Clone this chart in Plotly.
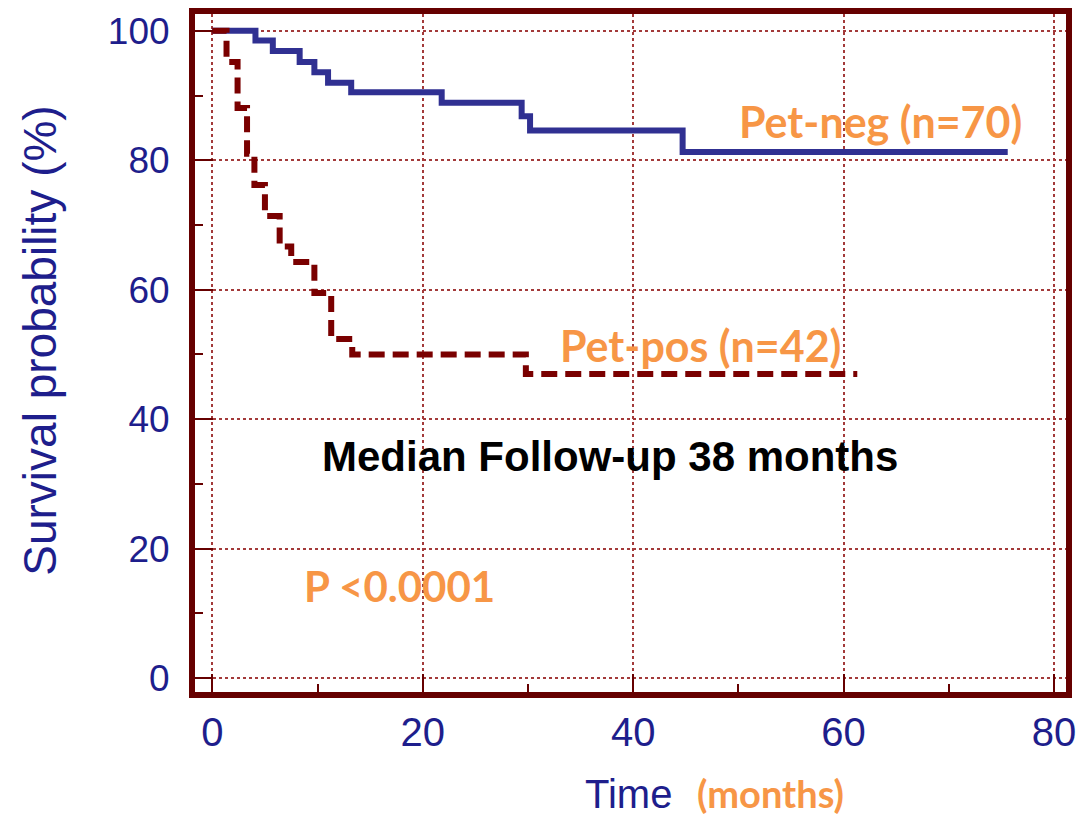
import plotly.graph_objects as go

# ---- data ----
neg_time = [0, 4.1, 5.75, 8.3, 9.7, 11.0, 13.2, 21.8, 29.4, 30.2, 44.7, 75.6]
neg_surv = [100, 98.5, 96.9, 95.2, 93.6, 92.0, 90.5, 88.9, 86.8, 84.6, 81.3, 81.3]

pos_time = [0, 1.35, 2.4, 3.3, 4.0, 5.0, 6.4, 7.5, 9.7, 11.3, 13.3, 29.8, 61.3]
pos_surv = [100, 95.2, 88.1, 81.0, 76.2, 71.4, 66.7, 64.3, 59.5, 52.4, 50.0, 47.0, 47.0]

x_ticks = [0, 20, 40, 60, 80]
y_ticks = [0, 20, 40, 60, 80, 100]

NAVY = "#1E1E8C"
ORANGE = "#F79646"
FRAME = "#660000"
GRID = "#A33A3A"

fig = go.Figure()
fig.add_trace(go.Scatter(x=neg_time, y=neg_surv, mode="lines", line_shape="hv",
                         line=dict(color="#303092", width=6), name="Pet-neg", showlegend=False))
fig.add_trace(go.Scatter(x=pos_time, y=pos_surv, mode="lines", line_shape="hv",
                         line=dict(color="#7A0000", width=6, dash="16px,8px"), name="Pet-pos", showlegend=False))

# plot area in pixels
L, R, T, B = 195, 1075, 8, 692
W, H = 1084, 819
x0px, xscale = 212.5, 10.63
y0px, yscale = 678.0, 6.53

xr = [(L - x0px) / xscale, (R - x0px) / xscale]
yr = [(y0px - B) / yscale, (y0px - T) / yscale]

axis_common = dict(
    showline=True, linewidth=6, linecolor=FRAME, mirror=True,
    showgrid=True, gridcolor=GRID, gridwidth=1.5, griddash="dot",
    zeroline=False,
    ticks="inside", tickcolor=FRAME, tickwidth=2,
    tickfont=dict(family="Liberation Sans, Arial", color=NAVY),
)

fig.update_xaxes(range=xr, tickvals=x_ticks, ticklen=18, ticklabelstandoff=0,
                 minor=dict(ticks="inside", dtick=10, tick0=0, ticklen=8, tickcolor=FRAME, tickwidth=2,
                            showgrid=False),
                 **axis_common)
fig.update_xaxes(tickfont_size=40)
fig.update_yaxes(range=yr, tickvals=y_ticks, ticklen=18, ticklabelstandoff=12,
                 minor=dict(ticks="inside", dtick=10, tick0=0, ticklen=8, tickcolor=FRAME, tickwidth=2,
                            showgrid=False),
                 **axis_common)
fig.update_yaxes(tickfont_size=37)

def dx(px):
    return (px - x0px) / xscale

def dy(py):
    return (y0px - py) / yscale

def px_x(px):
    return (px - L) / (R - L)

def px_y(py):
    return (B - py) / (B - T)

LATO = "Lato, Open Sans, sans-serif"
annots = [
    dict(x=dx(888), y=dy(116), text="<b>Pet-neg (n=70)</b>",
         font=dict(family=LATO, size=43, color=ORANGE)),
    dict(x=dx(706), y=dy(342), text="<b>Pet-pos (n=42)</b>",
         font=dict(family=LATO, size=43, color=ORANGE)),
    dict(x=dx(614.5), y=dy(454), text="<b>Median Follow-up 38 months</b>",
         font=dict(family="Liberation Sans, Arial", size=42, color="black")),
    dict(x=dx(402), y=dy(585), text="<b>P <0.0001</b>",
         font=dict(family=LATO, size=42, color=ORANGE)),
]
for a in annots:
    fig.add_annotation(xref="x", yref="y", showarrow=False, xanchor="center", yanchor="middle", **a)

# y-axis title
fig.add_annotation(xref="paper", yref="paper", x=px_x(38), y=px_y(338), textangle=-90,
                   text="Survival probability (%)", showarrow=False, xanchor="center", yanchor="middle",
                   font=dict(family="Liberation Sans, Arial", size=46, color=NAVY))

# x-axis title: "Time" (navy) + "(months)" (orange)
fig.add_annotation(xref="paper", yref="paper", x=px_x(633), y=px_y(819),
                   text="Time", showarrow=False, xanchor="center", yanchor="bottom",
                   font=dict(family="Liberation Sans, Arial", size=40, color=NAVY))
fig.add_annotation(xref="paper", yref="paper", x=px_x(776), y=px_y(819),
                   text="<b>(months)</b>", showarrow=False, xanchor="center", yanchor="bottom",
                   font=dict(family=LATO, size=38, color=ORANGE))

fig.update_layout(
    width=W, height=H, autosize=False,
    margin=dict(l=L, r=W - R, t=T, b=H - B, pad=0),
    plot_bgcolor="white", paper_bgcolor="white",
    showlegend=False,
)

fig.write_html("out.html")
